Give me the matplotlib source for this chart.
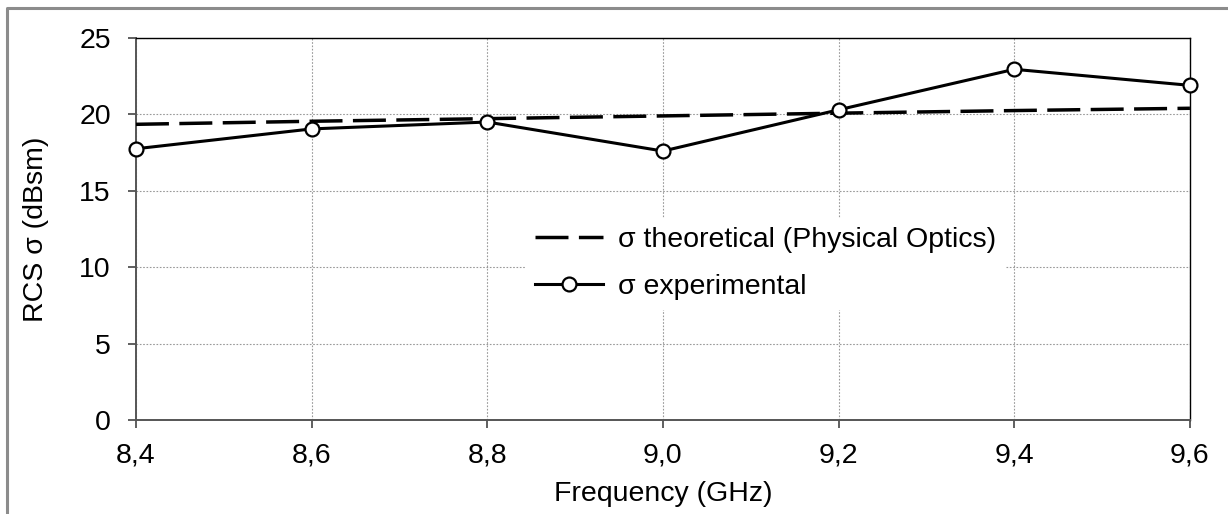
import matplotlib
matplotlib.use("Agg")
from matplotlib import pyplot as plt
from matplotlib.lines import Line2D

plt.rcParams['font.family'] = ['Liberation Sans', 'DejaVu Sans']

# ----- data -----
freq = [8.4, 8.6, 8.8, 9.0, 9.2, 9.4, 9.6]
freq_labels = ['8,4', '8,6', '8,8', '9,0', '9,2', '9,4', '9,6']
rcs_theory = [19.35, 19.55, 19.72, 19.9, 20.08, 20.25, 20.4]
rcs_exp = [17.75, 19.05, 19.5, 17.6, 20.3, 22.95, 21.9]
y_ticks = [0, 5, 10, 15, 20, 25]

fs = 20.5

fig = plt.figure(figsize=(12.28, 5.14), dpi=100)
ax = fig.add_axes([0.1107, 0.1829, 0.8583, 0.7432])

th, = ax.plot(freq, rcs_theory, color='black', lw=2.5, linestyle=(0, (9.5, 3)),
              label='σ theoretical (Physical Optics)', zorder=3)
ex, = ax.plot(freq, rcs_exp, color='black', lw=2.2, marker='o', markersize=10,
              markerfacecolor='white', markeredgecolor='black', markeredgewidth=1.6,
              label='σ experimental', zorder=4, clip_on=False)

ax.set_xlim(8.4, 9.6)
ax.set_ylim(0, 25)
ax.set_xticks(freq)
ax.set_xticklabels(freq_labels)
ax.set_yticks(y_ticks)
ax.tick_params(axis='both', labelsize=fs, direction='out', length=6, width=1.2, color='#444444')
ax.tick_params(axis='y', pad=12)
ax.tick_params(axis='x', pad=10)

ax.grid(True, color='#999999', linestyle=(0, (1.5, 1.5)), lw=0.8)
ax.set_axisbelow(True)

for side in ['top', 'right']:
    ax.spines[side].set_color('black')
    ax.spines[side].set_linewidth(1.0)
for side in ['left', 'bottom']:
    ax.spines[side].set_color('#555555')
    ax.spines[side].set_linewidth(1.4)

ax.set_xlabel('Frequency (GHz)', fontsize=fs, labelpad=9)
ax.set_ylabel('RCS σ (dBsm)', fontsize=fs, labelpad=22)

leg = ax.legend(handles=[th, ex], loc='upper left', bbox_to_anchor=(0.357, 0.565),
                fontsize=fs, frameon=True, fancybox=False, edgecolor='white',
                facecolor='white', framealpha=1.0, handlelength=2.4,
                handletextpad=0.5, labelspacing=0.75, borderpad=0.3)
leg.set_zorder(5)

# outer chart border (gray), cut at right/bottom as in the original
fig.add_artist(Line2D([7 / 1228, 7 / 1228, 1.0], [0.0, 1 - 8 / 514, 1 - 8 / 514],
                      transform=fig.transFigure, color='#8c8c8c', lw=2.2))

fig.savefig('out.png', dpi=100)
